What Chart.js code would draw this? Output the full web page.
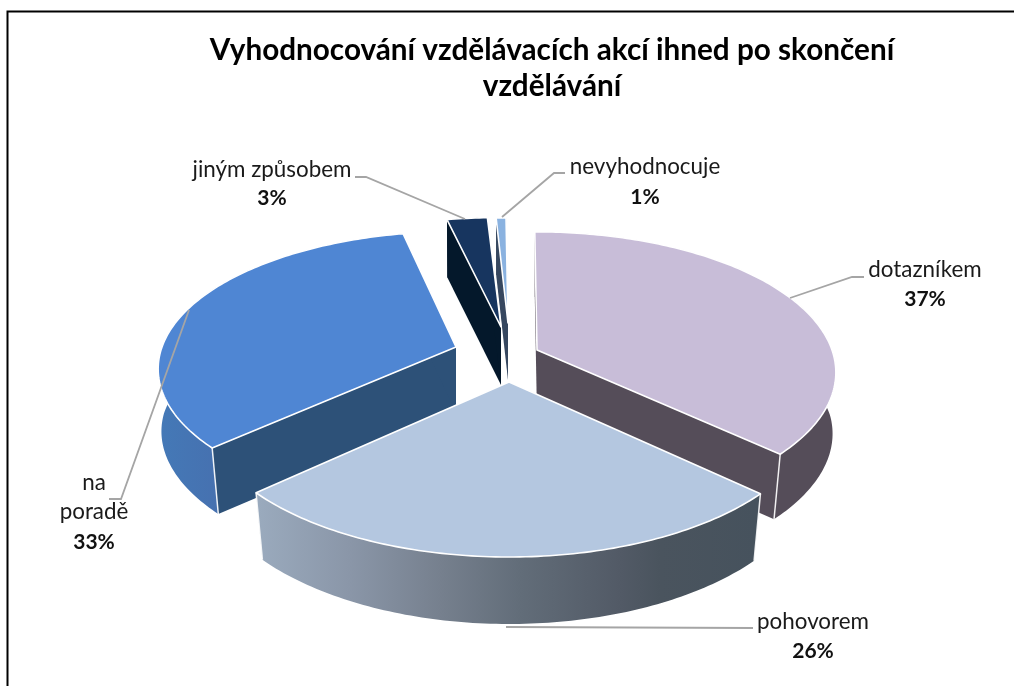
<!DOCTYPE html>
<html>
<head>
<meta charset="utf-8">
<style>html,body{margin:0;padding:0;background:#fff}canvas{display:block}</style>
<script src="https://cdn.jsdelivr.net/npm/chart.js@4/dist/chart.umd.min.js"></script>
</head>
<body>
<canvas id="c" width="1014" height="686"></canvas>
<script>
const categories = ['dotazníkem', 'pohovorem', 'na poradě', 'jiným způsobem', 'nevyhodnocuje'];
const percentValues = [37, 26.4, 33.4, 2.5, 0.7];
const titleLines = ['Vyhodnocování vzdělávacích akcí ihned po skončení', 'vzdělávání'];

const topColors = ['#C8BDD8', '#B4C7E0', '#4F86D3', '#17355F', '#8AB2E0'];
const faceColors = ['#554D59', '#4A5560', '#2D5178', '#04182B', '#36475F'];
const sideStops = [
  [[700, '#554D59'], [840, '#554D59']],
  [[258, '#9AAABD'], [350, '#8A96A8'], [440, '#76808E'], [520, '#626D79'], [620, '#525A66'], [660, '#4A545E'], [757, '#46525D']],
  [[158, '#4479B7'], [217, '#4671B0']],
  [[440, '#04182B'], [510, '#04182B']],
  [[490, '#36475F'], [510, '#36475F']]
];
/* 3-D look: each exploded slice's apex, half-axes and extrusion on the page */
const apexX = [537, 509, 456, 501, 508];
const apexY = [350, 382, 347, 327, 323];
const spanX = [295, 305, 294, 300, 262];
const spanY = [137, 147, 134, 127, 122];
const depth = [65, 67, 66, 58, 57];
const perspective = 0.16;
const drawOrder = [4, 3, 2, 0, 1];

const labelCenterX = [925, 813, 94, 272, 645];
const labelNameLines = [['dotazníkem'], ['pohovorem'], ['na', 'poradě'], ['jiným způsobem'], ['nevyhodnocuje']];
const labelBaseY = [[277, 306], [629, 658], [490, 519, 549], [177, 205], [174, 204]];
const leaders = [
  [[790, 298], [852, 277], [864, 277]],
  [[506, 627], [753, 628]],
  [[189, 310], [121, 499], [109, 499]],
  [[355, 177], [366, 177], [465, 219]],
  [[502, 217], [554, 173], [565, 173]]
];

const project = (i, X, Y, low) => {
  const w = 1 - perspective * Y;
  let x = spanX[i] * X / w;
  const y = apexY[i] + spanY[i] * Y / w + (low ? depth[i] : 0);
  if (low) x *= 0.993 - 0.027 * Math.max(0, Y);
  return [apexX[i] + x, y];
};

class Arc3D extends Chart.ArcElement {
  static id = 'arc3d';
  draw(ctx) {
    const i = this.$context.dataIndex;
    const a0 = this.startAngle, a1 = this.endAngle;
    const n = Math.max(4, Math.ceil((a1 - a0) * 60));
    const rim = low => {
      const pts = [];
      for (let k = 0; k <= n; k++) {
        const a = a0 + (a1 - a0) * k / n;
        pts.push(project(i, Math.cos(a), Math.sin(a), low));
      }
      return pts;
    };
    const poly = pts => {
      ctx.beginPath();
      pts.forEach((p, k) => k ? ctx.lineTo(p[0], p[1]) : ctx.moveTo(p[0], p[1]));
      ctx.closePath();
    };
    const hi = rim(false), lo = rim(true);
    const cT = project(i, 0, 0, false), cL = project(i, 0, 0, true);
    ctx.save();
    ctx.lineJoin = 'round';

    ctx.fillStyle = faceColors[i];
    [[hi[0], lo[0]], [hi[n], lo[n]]].forEach(e => {
      poly([cT, e[0], e[1], cL]);
      ctx.fill();
    });

    const stops = sideStops[i];
    const g = ctx.createLinearGradient(stops[0][0], 0, stops[stops.length - 1][0], 0);
    stops.forEach(s => g.addColorStop((s[0] - stops[0][0]) / (stops[stops.length - 1][0] - stops[0][0]), s[1]));
    ctx.fillStyle = g;
    poly(hi.concat(lo.slice().reverse()));
    ctx.fill();

    ctx.strokeStyle = 'rgba(255,255,255,0.9)';
    ctx.lineWidth = 1.5;
    [[a0, hi[0], lo[0]], [a1, hi[n], lo[n]]].forEach(e => {
      if (Math.sin(e[0]) > 0) {
        ctx.beginPath();
        ctx.moveTo(e[1][0], e[1][1]);
        ctx.lineTo(e[2][0], e[2][1]);
        ctx.stroke();
      }
    });

    poly([cT].concat(hi));
    ctx.fillStyle = this.options.backgroundColor;
    ctx.fill();
    ctx.strokeStyle = '#fff';
    ctx.lineWidth = 1.6;
    ctx.stroke();
    ctx.restore();
  }
}

class Pie3D extends Chart.PieController {
  static id = 'pie3d';
  static defaults = { dataElementType: 'arc3d' };
  draw() {
    const ctx = this.chart.ctx, arcs = this._cachedMeta.data;
    drawOrder.forEach(i => arcs[i].draw(ctx));
  }
}
Chart.register(Arc3D, Pie3D);

const frame = {
  id: 'frame',
  beforeDraw(chart) {
    const c = chart.ctx;
    c.save();
    c.fillStyle = '#fff';
    c.fillRect(0, 0, chart.width, chart.height);
    c.strokeStyle = '#000';
    c.lineWidth = 2;
    c.beginPath();
    c.moveTo(7.5, chart.height);
    c.lineTo(7.5, 11.5);
    c.lineTo(chart.width, 11.5);
    c.stroke();
    c.restore();
  }
};

const calloutFont = 'Lato, Carlito, sans-serif';
const callouts = {
  id: 'callouts',
  afterDatasetsDraw(chart) {
    const c = chart.ctx;
    c.save();
    c.strokeStyle = '#A5A5A5';
    c.lineWidth = 1.8;
    leaders.forEach(l => {
      c.beginPath();
      l.forEach((p, k) => k ? c.lineTo(p[0], p[1]) : c.moveTo(p[0], p[1]));
      c.stroke();
    });
    c.textAlign = 'center';
    c.textBaseline = 'alphabetic';
    categories.forEach((_, i) => {
      const ys = labelBaseY[i];
      c.font = '400 22.4px ' + calloutFont;
      c.fillStyle = '#1a1a1a';
      labelNameLines[i].forEach((t, k) => c.fillText(t, labelCenterX[i], ys[k]));
      c.font = '700 21px ' + calloutFont;
      c.fillStyle = '#111';
      c.fillText(Math.round(percentValues[i]) + '%', labelCenterX[i], ys[ys.length - 1]);
    });
    c.restore();
  }
};

new Chart(document.getElementById('c'), {
  type: 'pie3d',
  data: {
    labels: categories,
    datasets: [{ data: percentValues, backgroundColor: topColors, borderWidth: 0 }]
  },
  options: {
    responsive: false,
    animation: false,
    rotation: -0.5,
    layout: { padding: { left: 90 } },
    plugins: {
      legend: { display: false },
      tooltip: { enabled: false },
      title: {
        display: true,
        text: titleLines,
        color: '#000',
        font: { family: calloutFont, size: 29.7, weight: '700', lineHeight: 1.2 },
        padding: { top: 33, bottom: 10 }
      }
    }
  },
  plugins: [frame, callouts]
});
</script>
</body>
</html>
